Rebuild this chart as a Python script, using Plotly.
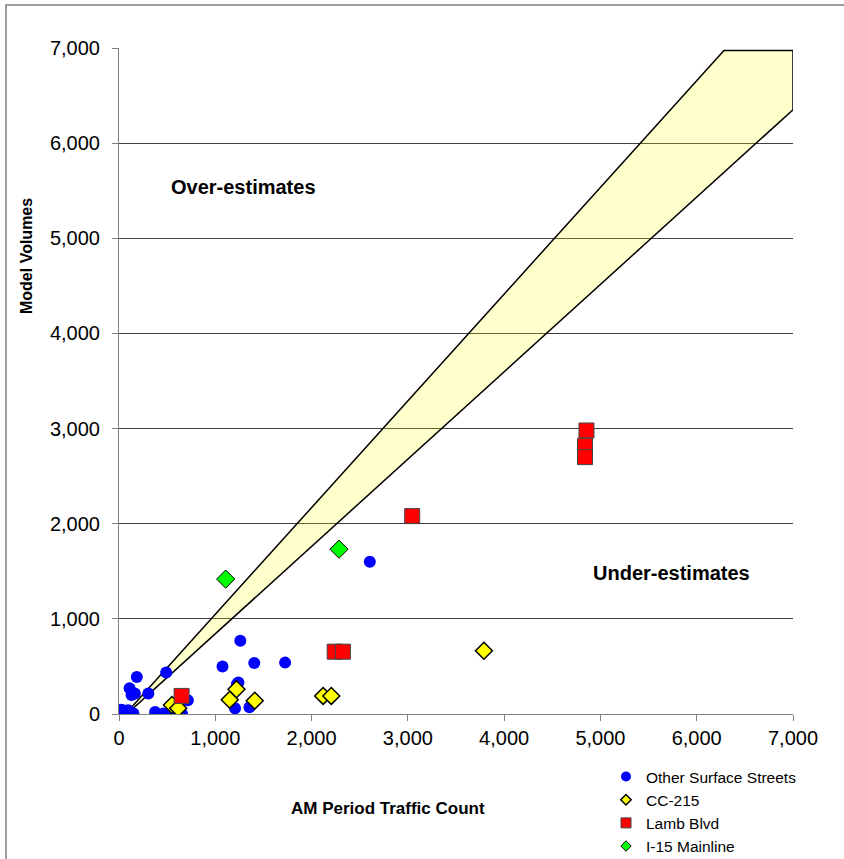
import plotly.graph_objects as go

# ---- data ----
series_names = ["Other Surface Streets", "CC-215", "Lamb Blvd", "I-15 Mainline"]

blue_x = [20, 40, 95, 150, 110, 185, 130, 165, 305, 490, 375, 460, 580, 655, 715,
          1075, 1260, 1405, 1725, 1240, 1225, 1205, 1355, 2605]
blue_y = [45, 40, 40, 5, 270, 390, 200, 215, 215, 435, 20, 5, 0, 0, 145,
          500, 770, 535, 540, 330, 315, 60, 70, 1600]

yellow_x = [550, 615, 1220, 1150, 1410, 2120, 2205, 3790]
yellow_y = [95, 60, 260, 150, 140, 190, 190, 665]

red_x = [650, 2240, 2325, 3045, 4855, 4840, 4840]
red_y = [190, 655, 655, 2080, 2980, 2820, 2700]

green_x = [1108, 2285]
green_y = [1418, 1732]

# acceptance band outline
band_x = [0, 6283, 7000, 7000, 0]
band_y = [-75, 6975, 6975, 6351, -75]

tick_vals = [0, 1000, 2000, 3000, 4000, 5000, 6000, 7000]

FONT = "Liberation Sans, Arial, sans-serif"

fig = go.Figure()

fig.add_trace(go.Scatter(
    x=band_x, y=band_y, mode="lines", fill="toself",
    fillcolor="rgba(255,255,0,0.2)",
    line=dict(color="black", width=1.5),
    showlegend=False, hoverinfo="skip"))

fig.add_trace(go.Scatter(
    x=blue_x, y=blue_y, mode="markers", showlegend=False,
    marker=dict(symbol="circle", size=12, color="#0000FF",
                line=dict(width=0))))
fig.add_trace(go.Scatter(
    x=yellow_x, y=yellow_y, mode="markers", showlegend=False,
    marker=dict(symbol="diamond", size=13, color="#FFFF00",
                line=dict(width=1.5, color="black"))))
fig.add_trace(go.Scatter(
    x=red_x, y=red_y, mode="markers", showlegend=False,
    marker=dict(symbol="square", size=15, color="#FF0000",
                line=dict(width=1, color="#444444"))))
fig.add_trace(go.Scatter(
    x=green_x, y=green_y, mode="markers", showlegend=False,
    marker=dict(symbol="diamond", size=14, color="#00FF00",
                line=dict(width=1, color="black"))))

# legend-only entries with small markers
legend_specs = [
    (series_names[0], "circle", 10, "#0000FF", 0, "#0000FF"),
    (series_names[1], "diamond", 8, "#FFFF00", 1.5, "black"),
    (series_names[2], "square", 10, "#FF0000", 1, "#444444"),
    (series_names[3], "diamond", 8, "#00FF00", 1, "black"),
]
for name, sym, sz, col, lw, lc in legend_specs:
    fig.add_trace(go.Scatter(
        x=[None], y=[None], mode="markers", name=name,
        marker=dict(symbol=sym, size=sz, color=col, line=dict(width=lw, color=lc))))

fig.update_layout(
    width=844, height=859,
    margin=dict(l=119, r=51, t=48, b=145),
    paper_bgcolor="white", plot_bgcolor="white",
    font=dict(family=FONT, color="black"),
    showlegend=True,
    legend=dict(x=(606 - 119) / 674, xref="paper",
                y=(859 - 760) / 859, yref="container",
                xanchor="left", yanchor="top",
                font=dict(size=15.5, family=FONT, color="black"),
                bgcolor="rgba(0,0,0,0)", tracegroupgap=0),
    xaxis=dict(range=[0, 7000], tickvals=tick_vals, tickformat=",d",
               automargin=False,
               showgrid=False, zeroline=False,
               showline=True, linecolor="#808080", linewidth=1,
               ticks="outside", ticklen=6, tickcolor="#808080",
               tickfont=dict(size=20, family=FONT, color="black")),
    yaxis=dict(range=[0, 7000], tickvals=tick_vals, tickformat=",d",
               automargin=False,
               showgrid=True, gridcolor="#404040", gridwidth=1,
               zeroline=False,
               showline=True, linecolor="#808080", linewidth=1,
               ticks="outside", ticklen=6, tickcolor="#808080",
               ticklabelstandoff=8,
               tickfont=dict(size=20, family=FONT, color="black")),
)

fig.add_annotation(text="<b>Over-estimates</b>", x=1290, y=5540,
                   xref="x", yref="y", showarrow=False,
                   font=dict(size=20, family=FONT, color="black"))
fig.add_annotation(text="<b>Under-estimates</b>", x=5740, y=1480,
                   xref="x", yref="y", showarrow=False,
                   font=dict(size=20, family=FONT, color="black"))

fig.add_annotation(text="<b>AM Period Traffic Count</b>",
                   x=(388 - 119) / 674, y=(714 - 808) / 666,
                   xref="paper", yref="paper", showarrow=False,
                   xanchor="center", yanchor="middle",
                   font=dict(size=17, family=FONT, color="black"))
fig.add_annotation(text="<b>Model Volumes</b>", textangle=-90,
                   x=(27 - 119) / 674, y=(714 - 256) / 666,
                   xref="paper", yref="paper", showarrow=False,
                   xanchor="center", yanchor="middle",
                   font=dict(size=16, family=FONT, color="black"))

# outer chart border
fig.add_shape(type="rect", xref="paper", yref="paper",
              x0=(6 - 119) / 674, x1=(860 - 119) / 674,
              y0=(714 - 880) / 666, y1=(714 - 5) / 666,
              line=dict(color="#808080", width=1.5), fillcolor="rgba(0,0,0,0)",
              layer="below")

fig.write_html("out.html",
               config={"displayModeBar": False},
               post_script="document.body.style.margin='0';document.body.style.overflow='hidden';")
